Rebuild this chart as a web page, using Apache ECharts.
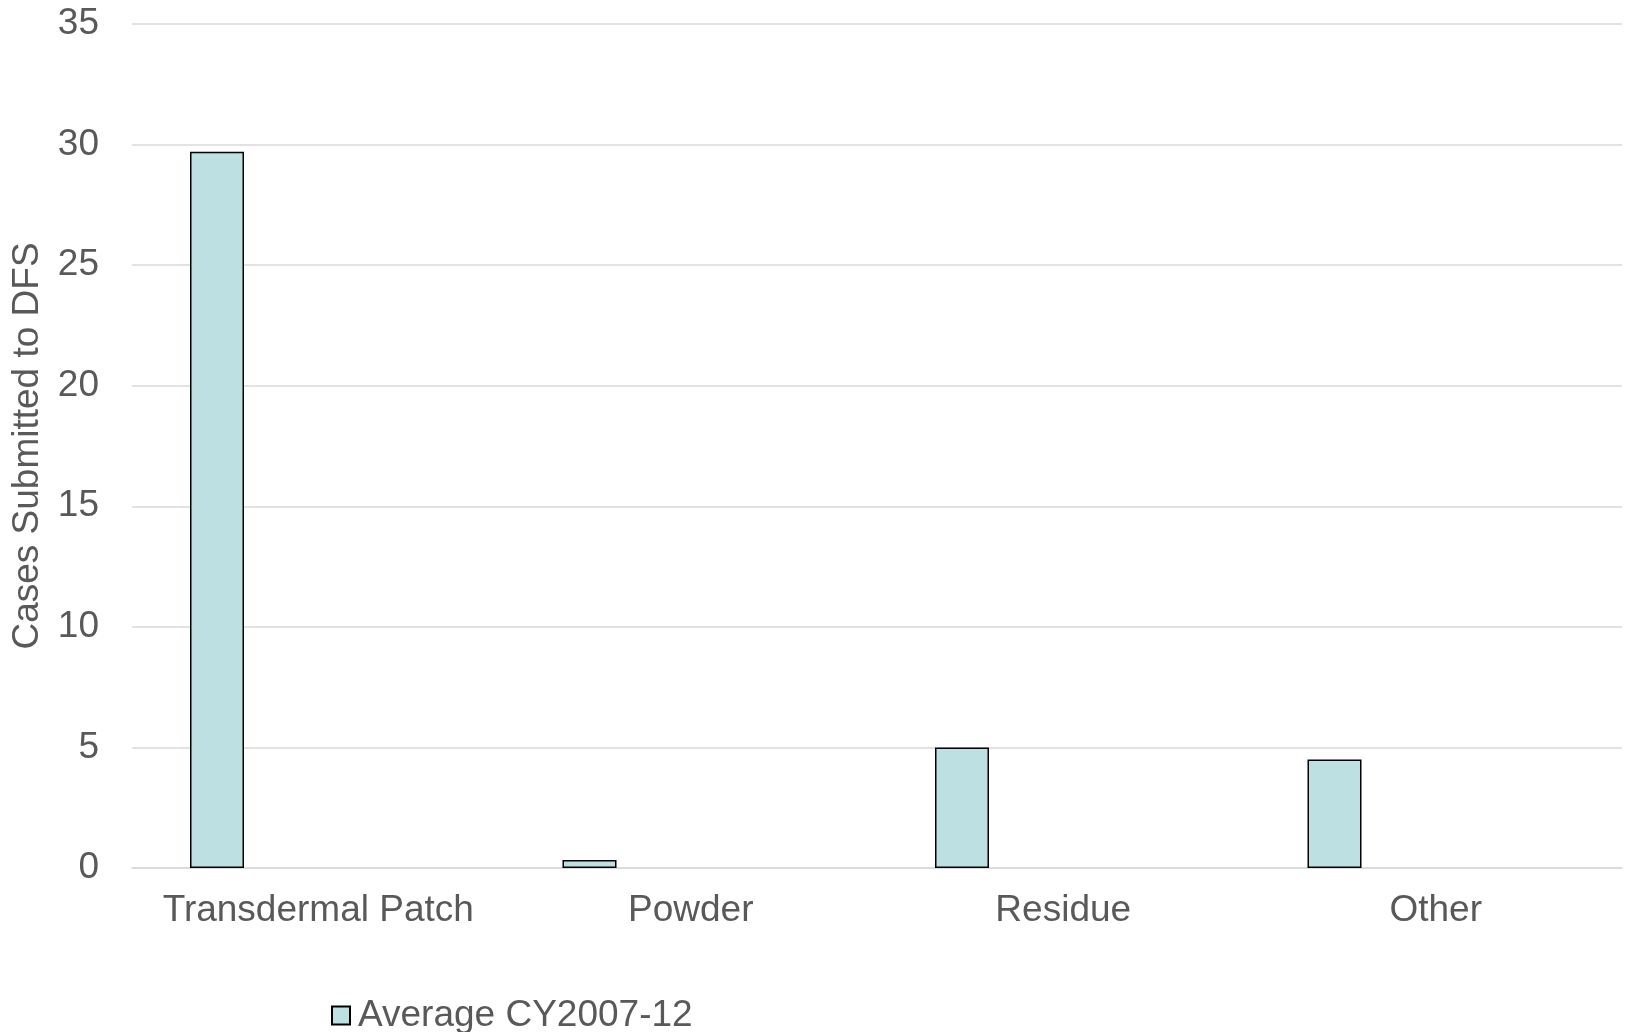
<!DOCTYPE html>
<html>
<head>
<meta charset="utf-8">
<script src="https://cdn.jsdelivr.net/npm/echarts@6/dist/echarts.min.js"></script>
<style>
html,body{margin:0;padding:0;background:#fff;}
#chart{width:1629px;height:1032px;}
</style>
</head>
<body>
<div id="chart"></div>
<script>
const categories = ["Transdermal Patch", "Powder", "Residue", "Other"];
const seriesName = "Average CY2007-12";
const averageValues = [29.7, 0.33, 5, 4.5];
const yTicks = { min: 0, max: 35, interval: 5 };

const chart = echarts.init(document.getElementById('chart'));
const textColor = '#595959';
const font = '"Liberation Sans", Arial, sans-serif';
chart.setOption({
  animation: false,
  backgroundColor: '#ffffff',
  grid: { left: 132, right: 7, top: 24, bottom: 164, containLabel: false, outerBoundsMode: 'none' },
  legend: {
    data: [seriesName],
    left: 326,
    top: 992,
    itemWidth: 18,
    itemHeight: 18,
    itemGap: 10,
    textStyle: { color: textColor, fontSize: 37, fontFamily: font, padding: [0,0,0,3] },
    icon: 'rect'
  },
  xAxis: {
    type: 'category',
    data: categories,
    axisLine: { show: true, lineStyle: { color: '#D9D9D9', width: 1.5 } },
    axisTick: { show: false },
    axisLabel: { color: textColor, fontSize: 37, fontFamily: font, margin: 24, interval: 0 }
  },
  yAxis: {
    type: 'value',
    min: yTicks.min,
    max: yTicks.max,
    interval: yTicks.interval,
    name: 'Cases Submitted to DFS',
    nameLocation: 'middle',
    nameGap: 86,
    nameTextStyle: { color: textColor, fontSize: 37, fontFamily: font },
    axisLine: { show: false },
    axisTick: { show: false },
    splitLine: { lineStyle: { color: '#D9D9D9', width: 1.5 } },
    axisLabel: { color: textColor, fontSize: 37, fontFamily: font, margin: 33 }
  },
  series: [
    {
      name: seriesName,
      type: 'bar',
      data: averageValues,
      barWidth: 54,
      barGap: '275%',
      itemStyle: { color: '#BDE0E3', borderColor: '#000000', borderWidth: 1.5 }
    },
    {
      name: 'spacer',
      type: 'bar',
      data: categories.map(() => '-'),
      barWidth: 54,
      itemStyle: { color: 'transparent' }
    }
  ]
});
</script>
</body>
</html>
